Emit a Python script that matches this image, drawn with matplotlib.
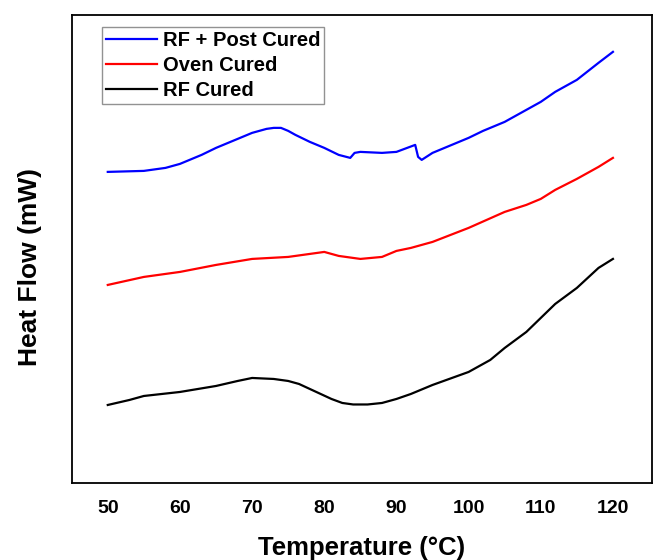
import numpy as np
import matplotlib.pyplot as plt

plt.rcParams['font.family'] = ['Liberation Sans', 'DejaVu Sans']
plt.rcParams['font.weight'] = 'bold'

## ---- data (heat flow in arbitrary units) ----
T_post = [50, 55, 58, 60, 63, 65, 68, 70, 72, 73, 74, 75, 76, 78, 80, 82, 83.6,
          84.2, 85, 88, 90, 92.6, 93.0, 93.5, 95, 98, 100, 102, 105, 108,
          110, 112, 115, 118, 120]
HF_post = [388, 389, 392, 396, 405, 412, 421, 427, 431, 432, 432, 429, 425, 418,
           412, 405, 402, 407, 408, 407, 408, 415, 403, 400, 407, 416, 422,
           429, 438, 450, 458, 468, 480, 497, 508]

T_oven = [50, 55, 60, 65, 70, 75, 78, 80, 82, 85, 88, 90, 92, 95, 100, 105,
          108, 110, 112, 115, 118, 120]
HF_oven = [275, 283, 288, 295, 301, 303, 306, 308, 304, 301, 303, 309, 312,
           318, 332, 348, 355, 361, 370, 381, 393, 402]

T_rf = [50, 53, 55, 60, 65, 68, 70, 73, 75, 76.5, 78, 79.5, 81, 82.5, 84, 86,
        88, 90, 92, 95, 100, 103, 105, 108, 110, 112, 115, 118, 120]
HF_rf = [155, 160, 164, 168, 174, 179, 182, 181, 179, 176, 171, 166, 161, 157,
         155.5, 155.5, 157, 161, 166, 175, 188, 200, 212, 228, 242, 256, 272,
         292, 301]

x_ticks = [50, 60, 70, 80, 90, 100, 110, 120]

fig = plt.figure(figsize=(6.7, 5.6), dpi=100)
ax = fig.add_axes([0.107, 0.1375, 0.866, 0.836])

ax.plot(T_post, HF_post, color='#0000ff', linewidth=1.6, label='RF + Post Cured')
ax.plot(T_oven, HF_oven, color='#ff0000', linewidth=1.6, label='Oven Cured')
ax.plot(T_rf, HF_rf, color='black', linewidth=1.6, label='RF Cured')

ax.set_xlim(45.0, 125.4)
ax.set_ylim(77, 545)
ax.set_xticks(x_ticks)
ax.set_xticklabels([str(t) for t in x_ticks], fontsize=14, fontweight='bold')
ax.set_yticks([])
ax.tick_params(axis='x', length=0, pad=12)
for s in ax.spines.values():
    s.set_linewidth(1.3)

ax.set_xlabel('Temperature (°C)', fontsize=18.5, fontweight='bold', labelpad=14)
ax.set_ylabel('Heat Flow (mW)', fontsize=19, fontweight='bold')
ax.yaxis.set_label_coords(-0.052, 0.4615)

leg = ax.legend(loc='upper left', bbox_to_anchor=(0.053, 0.974), fontsize=14.5,
                frameon=True, fancybox=False, edgecolor='#777777',
                handlelength=2.5, handletextpad=0.3, borderpad=0.2,
                labelspacing=0.3, borderaxespad=0)
leg.get_frame().set_linewidth(1.0)
for t in leg.get_texts():
    t.set_fontweight('bold')

plt.savefig('out.png', dpi=100)
